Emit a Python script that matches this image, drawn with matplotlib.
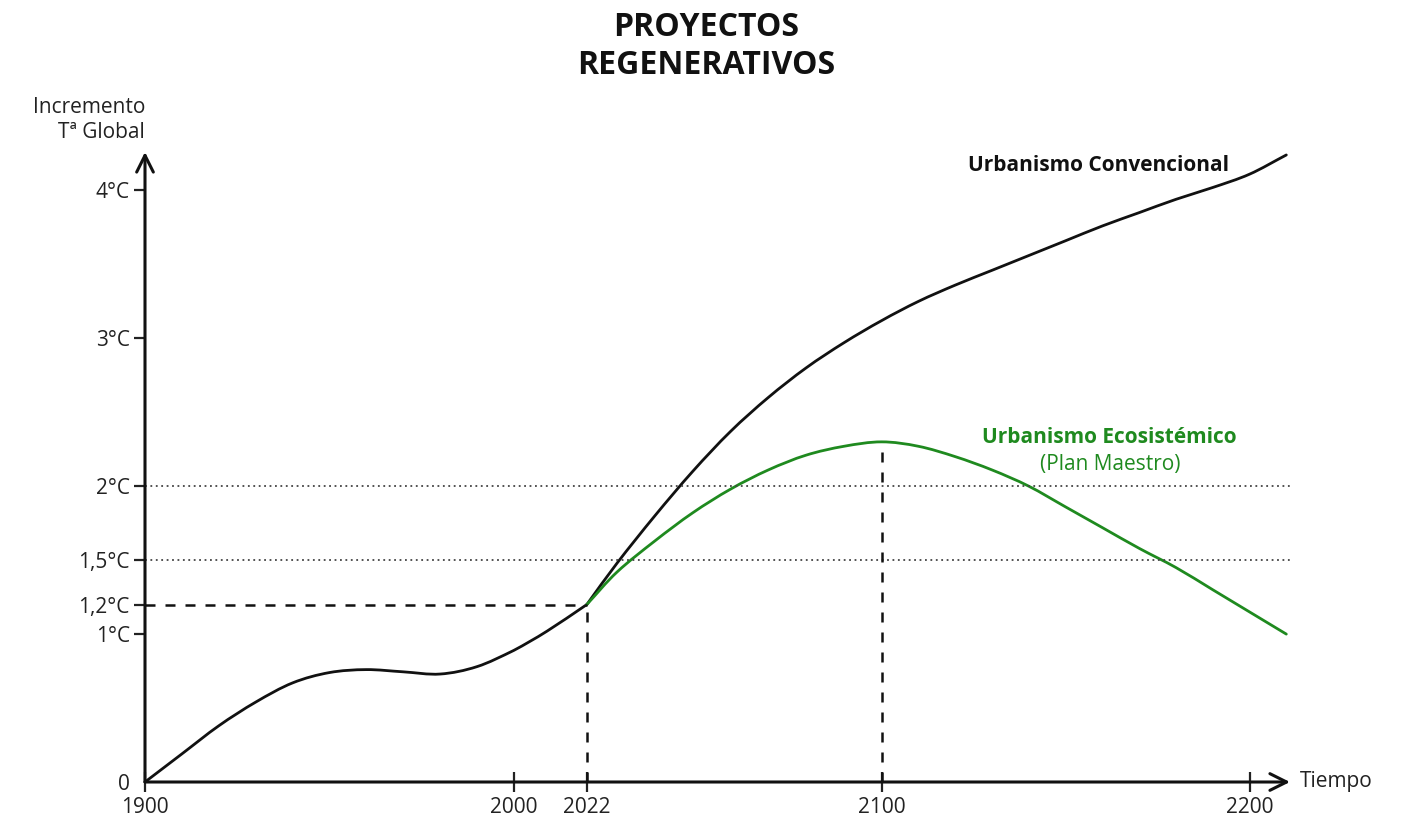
import numpy as np
import matplotlib
matplotlib.use("Agg")
from matplotlib import pyplot as plt
from matplotlib.path import Path
from matplotlib.patches import PathPatch

plt.rcParams['font.family'] = ['Open Sans', 'DejaVu Sans']

# lecturas del grafico (anio, incremento de temperatura en grados)
anios_conv = [1900, 1910, 1920, 1930, 1940, 1950, 1960, 1970, 1980, 1990, 2000, 2010,
              2022, 2030, 2040, 2050, 2060, 2070, 2080, 2090, 2100, 2110, 2120, 2130,
              2140, 2150, 2160, 2170, 2180, 2190, 2200, 2210]
temp_conv = [0.0, 0.19, 0.38, 0.54, 0.67, 0.74, 0.76, 0.745, 0.73, 0.78, 0.89, 1.02,
             1.2, 1.48, 1.80, 2.10, 2.37, 2.60, 2.80, 2.97, 3.12, 3.25, 3.36, 3.46,
             3.56, 3.66, 3.76, 3.85, 3.94, 4.02, 4.11, 4.24]

anios_eco = [2022, 2030, 2040, 2050, 2060, 2070, 2080, 2090, 2100, 2110, 2120, 2130,
             2140, 2150, 2160, 2170, 2180, 2190, 2200, 2210]
temp_eco = [1.2, 1.42, 1.63, 1.82, 1.98, 2.11, 2.21, 2.27, 2.30, 2.27, 2.20, 2.11,
            2.0, 1.86, 1.72, 1.58, 1.45, 1.30, 1.15, 1.0]

x_ticks = [1900, 2000, 2022, 2100, 2200]
y_ticks = [0, 1, 1.2, 1.5, 2, 3, 4]
y_labels = ['0', '1°C', '1,2°C', '1,5°C', '2°C', '3°C', '4°C']
umbrales = [1.5, 2]
hoy = 2022
pico = 2100

VERDE = '#1f8a1f'
NEGRO = '#111111'
GRIS = '#222222'

# eje temporal esquematico (no es lineal alrededor de 2022)
knots_y = np.array([1900, 2000, 2022, 2100, 2200, 2300])
knots_p = np.array([0, 369, 442, 737, 1105, 1473])


def fwd(x):
    return np.interp(x, knots_y, knots_p)


def inv(p):
    return np.interp(p, knots_p, knots_y)


def curva_suave(xs, ys):
    # path bezier que pasa por los puntos leidos (catmull-rom)
    pts = np.column_stack([xs, ys]).astype(float)
    ext = np.vstack([2 * pts[0] - pts[1], pts, 2 * pts[-1] - pts[-2]])
    verts = [pts[0]]
    codes = [Path.MOVETO]
    for i in range(1, len(ext) - 2):
        p0, p1, p2, p3 = ext[i - 1], ext[i], ext[i + 1], ext[i + 2]
        verts += [p1 + (p2 - p0) / 6, p2 - (p3 - p1) / 6, p2]
        codes += [Path.CURVE4] * 3
    return Path(verts, codes)


fig = plt.figure(figsize=(14.01, 8.23), dpi=100)
ax = fig.add_axes([145 / 1401, 41 / 823, 1145 / 1401, 630 / 823])
ax.set_xscale('function', functions=(fwd, inv))
ax.set_xlim(1900, 2211)
ax.set_ylim(0, 4.26)

for s in ['top', 'right', 'left', 'bottom']:
    ax.spines[s].set_visible(False)

# ejes con flecha
for fin in [(1.0, 0), (0, 1.0)]:
    ax.annotate('', xy=fin, xytext=(0, 0), xycoords='axes fraction',
                arrowprops=dict(arrowstyle='->', lw=2.2, color=NEGRO, mutation_scale=30,
                                shrinkA=0, shrinkB=0), annotation_clip=False)

ax.set_xticks(x_ticks)
ax.set_xticklabels([str(t) for t in x_ticks])
ax.set_yticks(y_ticks)
ax.set_yticklabels(y_labels)
ax.tick_params(axis='both', width=1.6, color=GRIS, labelsize=15, labelcolor=GRIS)
ax.tick_params(axis='x', direction='inout', length=14, pad=4)
ax.tick_params(axis='y', direction='out', length=8, pad=3)
ax.yaxis.get_major_ticks()[0].tick1line.set_visible(False)
ax.xaxis.get_majorticklabels()[0].set_x(1903)

# umbrales y referencias
for u in umbrales:
    ax.plot([1900, 2211], [u, u], linestyle=(0, (1, 2)), color='#444444', lw=1.3)
ax.plot([1900, hoy], [1.2, 1.2], linestyle=(0, (4, 4)), color=NEGRO, lw=1.8)
ax.plot([hoy, hoy], [0, 1.2], linestyle=(0, (4, 4)), color=NEGRO, lw=1.8)
ax.plot([pico, pico], [0, max(temp_eco)], linestyle=(0, (4, 4)), color=NEGRO, lw=1.8)

# la curva convencional cambia de pendiente en 2022: dos tramos
k = anios_conv.index(hoy)
for xs, ys, c in [(anios_conv[:k + 1], temp_conv[:k + 1], NEGRO),
                  (anios_conv[k:], temp_conv[k:], NEGRO),
                  (anios_eco, temp_eco, VERDE)]:
    ax.add_patch(PathPatch(curva_suave(xs, ys), fill=False, edgecolor=c,
                           lw=2.0, capstyle='round', joinstyle='round', clip_on=False))

ax.text(2159, 4.17, 'Urbanismo Convencional', fontsize=15, fontweight='bold',
        color=NEGRO, ha='center', va='center')
ax.text(2162, 2.33, 'Urbanismo Ecosistémico', fontsize=15, fontweight='bold',
        color=VERDE, ha='center', va='center')
ax.text(2162, 2.15, '(Plan Maestro)', fontsize=15, color=VERDE, ha='center', va='center')

fig.text(145 / 1401, 1 - 120 / 823, 'Incremento\nTª Global', fontsize=15, color=GRIS,
         ha='right', va='center', linespacing=1.25)
fig.text(1300 / 1401, 41 / 823, 'Tiempo', fontsize=15, color=GRIS,
         ha='left', va='center')
fig.text(706 / 1401, 1 - 46 / 823, 'PROYECTOS\nREGENERATIVOS', fontsize=23,
         fontweight='bold', color=NEGRO, ha='center', va='center', linespacing=1.2)

fig.savefig('out.png', dpi=100, facecolor='white')
